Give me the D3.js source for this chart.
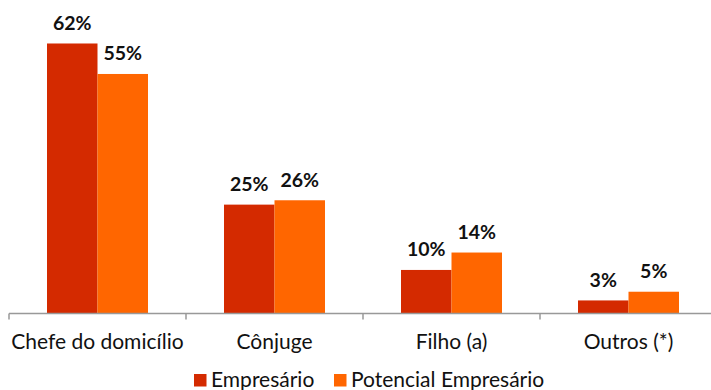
<!DOCTYPE html>
<html>
<head>
<meta charset="utf-8">
<script src="https://cdn.jsdelivr.net/npm/d3@7"></script>
<style>
  html, body { margin: 0; padding: 0; background: #fff; }
  svg { display: block; font-family: Lato, "Open Sans", sans-serif; }
</style>
</head>
<body>
<svg id="chart" width="711" height="390"></svg>
<script>
// Household position of entrepreneurs vs. potential entrepreneurs (%)
const categories = ["Chefe do domicílio", "Cônjuge", "Filho (a)", "Outros (*)"];
const seriesNames = ["Empresário", "Potencial Empresário"];
const empresario = [62, 25, 10, 3];
const potencial = [55, 26, 14, 5];
const colors = ["#D42A00", "#FF6600"];

const svg = d3.select("#chart");
const W = 711;
const margin = { left: 9, right: -6, baseline: 313.5 };
const barW = 50.5;

const x0 = d3.scaleBand()
  .domain(categories)
  .range([margin.left, W - margin.right])
  .padding(0);

const x1 = d3.scaleBand()
  .domain(seriesNames)
  .range([x0.bandwidth() / 2 - barW, x0.bandwidth() / 2 + barW])
  .padding(0);

const y = d3.scaleLinear()
  .domain([0, 72])
  .range([margin.baseline, margin.baseline - 72 * 4.355]);

const rows = categories.map((c, i) => ({
  cat: c,
  vals: [
    { s: seriesNames[0], v: empresario[i], c: colors[0] },
    { s: seriesNames[1], v: potencial[i], c: colors[1] }
  ]
}));

const groups = svg.append("g").selectAll("g.cat")
  .data(rows)
  .join("g")
  .attr("class", "cat")
  .attr("transform", d => `translate(${x0(d.cat)},0)`);

groups.selectAll("rect")
  .data(d => d.vals)
  .join("rect")
  .attr("x", d => x1(d.s))
  .attr("width", x1.bandwidth())
  .attr("y", d => y(d.v))
  .attr("height", d => y(0) - y(d.v))
  .attr("fill", d => d.c);

groups.selectAll("text.val")
  .data(d => d.vals)
  .join("text")
  .attr("class", "val")
  .attr("x", d => x1(d.s) + x1.bandwidth() / 2)
  .attr("y", d => y(d.v) - 13.5)
  .attr("text-anchor", "middle")
  .attr("font-weight", "bold")
  .attr("font-size", 19.5)
  .attr("fill", "#111")
  .text(d => d.v + "%");

// category axis with ticks between groups
const axis = svg.append("g");
axis.append("line")
  .attr("x1", margin.left).attr("x2", W)
  .attr("y1", margin.baseline).attr("y2", margin.baseline)
  .attr("stroke", "#999").attr("stroke-width", 1.5);

const tickXs = categories.map(c => x0(c)).concat([x0.range()[1]]);
axis.selectAll("line.tick")
  .data(tickXs)
  .join("line")
  .attr("class", "tick")
  .attr("x1", d => d).attr("x2", d => d)
  .attr("y1", margin.baseline).attr("y2", margin.baseline + 6)
  .attr("stroke", "#999").attr("stroke-width", 1.5);

axis.selectAll("text.cat")
  .data(categories)
  .join("text")
  .attr("class", "cat")
  .attr("x", d => x0(d) + x0.bandwidth() / 2)
  .attr("y", 349)
  .attr("text-anchor", "middle")
  .attr("font-size", 21)
  .attr("fill", "#111")
  .text(d => d);

// legend
const legendItems = [
  { name: seriesNames[0], color: colors[0], x: 194 },
  { name: seriesNames[1], color: colors[1], x: 334 }
];
const li = svg.append("g").selectAll("g")
  .data(legendItems)
  .join("g")
  .attr("transform", d => `translate(${d.x},0)`);
li.append("rect")
  .attr("x", 0).attr("y", 374)
  .attr("width", 12.5).attr("height", 12.5)
  .attr("fill", d => d.color);
li.append("text")
  .attr("x", 17).attr("y", 387)
  .attr("font-size", 21)
  .attr("fill", "#111")
  .text(d => d.name);
</script>
</body>
</html>
